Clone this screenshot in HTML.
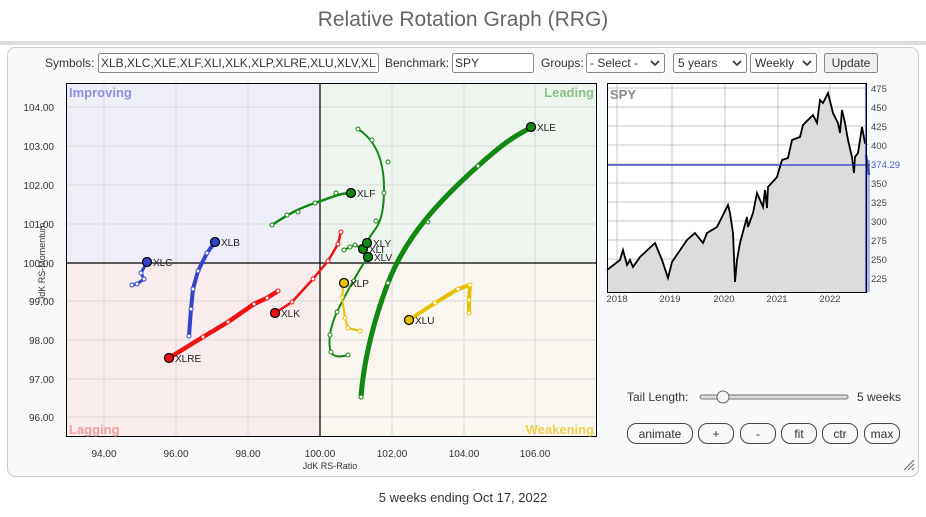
<!DOCTYPE html>
<html><head><meta charset="utf-8"><style>
body{margin:0;background:#fff;font-family:"Liberation Sans",Arial,sans-serif}
svg text{font-family:"Liberation Sans",Arial,sans-serif}
</style></head><body>
<svg width="926" height="512" viewBox="0 0 926 512" xmlns="http://www.w3.org/2000/svg">
<rect width="926" height="512" fill="#fff"/>
<text x="463" y="26" text-anchor="middle" font-size="21" fill="#666">Relative Rotation Graph (RRG)</text>
<rect x="0" y="41" width="926" height="4" fill="#d9dde0"/>
<rect x="7.5" y="47.5" width="911" height="429" rx="8" fill="#f8f9fa" stroke="#ccc"/>
<!-- header -->
<g font-size="12" fill="#333">
<text x="45" y="67">Symbols:</text>
<rect x="98.5" y="53.5" width="280" height="19" fill="#fff" stroke="#888" rx="2"/>
<text x="101" y="67">XLB,XLC,XLE,XLF,XLI,XLK,XLP,XLRE,XLU,XLV,XL</text>
<text x="385" y="67">Benchmark:</text>
<rect x="452.5" y="53.5" width="81" height="19" fill="#fff" stroke="#888" rx="2"/>
<text x="455" y="67">SPY</text>
<text x="541" y="67">Groups:</text>
<rect x="586.5" y="53.5" width="78" height="19" fill="#fff" stroke="#888" rx="2"/>
<text x="590" y="67">- Select -</text><path d="M651 61l4 4 4-4" stroke="#333" stroke-width="1.6" fill="none"/>
<rect x="673.5" y="53.5" width="73" height="19" fill="#fff" stroke="#888" rx="2"/>
<text x="678" y="67">5 years</text><path d="M733 61l4 4 4-4" stroke="#333" stroke-width="1.6" fill="none"/>
<rect x="750.5" y="53.5" width="66" height="19" fill="#fff" stroke="#888" rx="2"/>
<text x="755" y="67">Weekly</text><path d="M803 61l4 4 4-4" stroke="#333" stroke-width="1.6" fill="none"/>
<rect x="824.5" y="53.5" width="53" height="19" fill="#efefef" stroke="#888" rx="2"/>
<text x="851" y="67" text-anchor="middle">Update</text>
</g>
<!-- RRG quadrants -->
<rect x="66" y="83" width="254" height="180" fill="#eeeef8"/>
<rect x="320" y="83" width="277" height="180" fill="#eef4ee"/>
<rect x="66" y="263" width="254" height="174" fill="#f8ecec"/>
<rect x="320" y="263" width="277" height="174" fill="#f8f6ef"/>
<g stroke="#d8d8d8" stroke-width="1">
<path d="M104 83V437M176 83V437M248 83V437M392 83V437M464 83V437M535 83V437"/>
<path d="M66 107H597M66 146H597M66 185H597M66 224H597M66 301H597M66 340H597M66 379H597M66 417H597"/>
</g>
<path d="M320 83V437M66 263H597" stroke="#000" stroke-width="1.2"/>
<rect x="66.5" y="83.5" width="530" height="353" fill="none" stroke="#000"/>
<g font-size="13" font-weight="bold">
<text x="69" y="97" fill="#8f8fe0">Improving</text>
<text x="594" y="97" fill="#8cc08c" text-anchor="end">Leading</text>
<text x="69" y="434" fill="#f0a0a0">Lagging</text>
<text x="594" y="434" fill="#f0d050" text-anchor="end">Weakening</text>
</g>
<g font-size="10" fill="#333">
<text x="54" y="111" text-anchor="end">104.00</text><text x="54" y="150" text-anchor="end">103.00</text>
<text x="54" y="189" text-anchor="end">102.00</text><text x="54" y="228" text-anchor="end">101.00</text>
<text x="54" y="267" text-anchor="end">100.00</text><text x="54" y="305" text-anchor="end">99.00</text>
<text x="54" y="344" text-anchor="end">98.00</text><text x="54" y="383" text-anchor="end">97.00</text>
<text x="54" y="421" text-anchor="end">96.00</text>
<g text-anchor="middle">
<text x="104" y="457">94.00</text><text x="176" y="457">96.00</text><text x="248" y="457">98.00</text>
<text x="320" y="457">100.00</text><text x="392" y="457">102.00</text><text x="464" y="457">104.00</text><text x="535" y="457">106.00</text>
</g>
<text x="330" y="469" text-anchor="middle" font-size="9">JdK RS-Ratio</text>
<text transform="translate(45,262) rotate(-90)" text-anchor="middle" font-size="9">JdK RS-Momentum</text>
</g>
<!-- series -->
<g fill="none" stroke-linecap="round" stroke-linejoin="round">
<path d="M361 397C363 370 370 330 388 283S440 200 478 166S520 135 531 127" stroke="#118811" stroke-width="5"/>
<path d="M272 225C290 213 300 208 315 203S340 193 351 193" stroke="#118811" stroke-width="2.5"/>
<path d="M358 129C372 138 385 155 384 193S372 228 367 243" stroke="#118811" stroke-width="2"/>
<path d="M344 250L350 247 355 245 363 249" stroke="#118811" stroke-width="2"/>
<path d="M368 257C360 268 345 295 337 312S328 345 331 352S345 356 348 355" stroke="#118811" stroke-width="2"/>
<path d="M360 331L348 328 345 318 342 297 344 283" stroke="#e8c000" stroke-width="2"/>
<path d="M469 313L469 300 470 285 458 289 435 303 409 320" stroke="#e8c000" stroke-width="4"/>
<path d="M341 232L338 244 328 261 313 279 292 302 275 313" stroke="#ee1111" stroke-width="2.5"/>
<path d="M278 291L267 298 254 304 228 322 203 337 169 358" stroke="#ee1111" stroke-width="4.5"/>
<path d="M189 336L191 309 193 289 198 271 207 253 215 242" stroke="#3344cc" stroke-width="4"/>
<path d="M132 285L137 284 144 279 141 273 147 262" stroke="#3344cc" stroke-width="3"/>
</g>
<g fill="#fff" stroke-width="1">
<g stroke="#118811"><circle cx="361" cy="397" r="2"/><circle cx="388" cy="283" r="2"/><circle cx="428" cy="222" r="2"/><circle cx="478" cy="166" r="2"/>
<circle cx="272" cy="225" r="2"/><circle cx="287" cy="215" r="2"/><circle cx="298" cy="212" r="2"/><circle cx="315" cy="203" r="2"/><circle cx="336" cy="193" r="2"/>
<circle cx="358" cy="129" r="2"/><circle cx="372" cy="140" r="2"/><circle cx="388" cy="162" r="2"/><circle cx="384" cy="193" r="2"/><circle cx="376" cy="221" r="2"/>
<circle cx="344" cy="250" r="2"/><circle cx="350" cy="247" r="2"/><circle cx="355" cy="245" r="2"/>
<circle cx="354" cy="281" r="2"/><circle cx="337" cy="312" r="2"/><circle cx="330" cy="335" r="2"/><circle cx="331" cy="352" r="2"/><circle cx="348" cy="355" r="2"/></g>
<g stroke="#e8c000"><circle cx="360" cy="331" r="2"/><circle cx="348" cy="328" r="2"/><circle cx="345" cy="318" r="2"/><circle cx="342" cy="297" r="2"/>
<circle cx="469" cy="313" r="2"/><circle cx="469" cy="300" r="2"/><circle cx="470" cy="285" r="2"/><circle cx="458" cy="289" r="2"/><circle cx="435" cy="303" r="2"/></g>
<g stroke="#ee1111"><circle cx="341" cy="232" r="2"/><circle cx="338" cy="244" r="2"/><circle cx="328" cy="261" r="2"/><circle cx="313" cy="279" r="2"/><circle cx="292" cy="302" r="2"/>
<circle cx="278" cy="291" r="2"/><circle cx="267" cy="298" r="2"/><circle cx="254" cy="304" r="2"/><circle cx="228" cy="322" r="2"/><circle cx="203" cy="337" r="2"/></g>
<g stroke="#3344cc"><circle cx="189" cy="336" r="2"/><circle cx="191" cy="309" r="2"/><circle cx="193" cy="289" r="2"/><circle cx="198" cy="271" r="2"/><circle cx="207" cy="253" r="2"/>
<circle cx="132" cy="285" r="2"/><circle cx="137" cy="284" r="2"/><circle cx="144" cy="279" r="2"/><circle cx="141" cy="273" r="2"/></g>
</g>
<g stroke="#000" stroke-width="1.2">
<circle cx="531" cy="127" r="4.5" fill="#118811"/><circle cx="351" cy="193" r="4.5" fill="#118811"/>
<circle cx="363" cy="249" r="4.5" fill="#118811"/><circle cx="367" cy="243" r="4.5" fill="#118811"/><circle cx="368" cy="257" r="4.5" fill="#118811"/>
<circle cx="344" cy="283" r="4.5" fill="#e8c000"/><circle cx="409" cy="320" r="4.5" fill="#e8c000"/>
<circle cx="275" cy="313" r="4.5" fill="#ee1111"/><circle cx="169" cy="358" r="4.5" fill="#ee1111"/>
<circle cx="215" cy="242" r="4.5" fill="#3344cc"/><circle cx="147" cy="262" r="4.5" fill="#3344cc"/>
</g>
<g font-size="10" fill="#222">
<text x="537" y="131">XLE</text><text x="357" y="197">XLF</text><text x="373" y="247">XLY</text><text x="369" y="253">XLI</text><text x="374" y="261">XLV</text>
<text x="350" y="287">XLP</text><text x="415" y="324">XLU</text><text x="281" y="317">XLK</text><text x="175" y="362">XLRE</text>
<text x="221" y="246">XLB</text><text x="153" y="266">XLC</text>
</g>
<!-- SPY chart -->
<rect x="607" y="83" width="259" height="209" fill="#fff"/>
<g stroke="#c8c8c8"><path d="M617 83V292M672 83V292M725 83V292M778 83V292M830 83V292"/>
<path d="M607 88H866M607 107H866M607 126H866M607 145H866M607 164H866M607 183H866M607 202H866M607 221H866M607 240H866M607 259H866M607 278H866"/></g>
<polygon fill="#dcdcdc" points="607,292 607,270 620,260 623,250 627,265 630,260 633,267 640,257 655,243 662,260 668,278 672,262 687,240 695,233 703,243 707,233 717,227 728,205 730,213 733,233 735,282 737,260 740,243 747,217 748,227 753,213 757,193 763,207 765,190 767,208 768,187 777,177 782,160 788,158 792,140 800,137 803,125 813,115 817,123 820,100 823,103 828,93 833,113 838,123 840,133 842,110 845,123 848,140 852,157 854,173 855,157 858,153 862,127 865,143 867,145 867,292"/>
<polyline fill="none" stroke="#000" stroke-width="1.8" points="607,270 620,260 623,250 627,265 630,260 633,267 640,257 655,243 662,260 668,278 672,262 687,240 695,233 703,243 707,233 717,227 728,205 730,213 733,233 735,282 737,260 740,243 747,217 748,227 753,213 757,193 763,207 765,190 767,208 768,187 777,177 782,160 788,158 792,140 800,137 803,125 813,115 817,123 820,100 823,103 828,93 833,113 838,123 840,133 842,110 845,123 848,140 852,157 854,173 855,157 858,153 862,127 865,143 867,145"/>
<rect x="866" y="160" width="4" height="132" fill="#aab4ee"/>
<path d="M866 83V292" stroke="#3344cc" stroke-width="1.5"/>
<path d="M607 165H870" stroke="#2233bb" stroke-width="1.2"/>
<path d="M866 155L869 175" stroke="#3344cc" stroke-width="2.5"/>
<rect x="607.5" y="83.5" width="259" height="209" fill="none" stroke="#000"/>
<text x="610" y="99" font-size="13" font-weight="bold" fill="#888">SPY</text>
<g font-size="9.5" fill="#444">
<text x="871" y="92">475</text><text x="871" y="111">450</text><text x="871" y="130">425</text><text x="871" y="149">400</text>
<text x="871" y="168" fill="#4455cc">374.29</text><text x="871" y="187">350</text><text x="871" y="206">325</text><text x="871" y="225">300</text>
<text x="871" y="244">275</text><text x="871" y="263">250</text><text x="871" y="282">225</text>
<g text-anchor="middle"><text x="617" y="302">2018</text><text x="670" y="302">2019</text><text x="724" y="302">2020</text><text x="777" y="302">2021</text><text x="830" y="302">2022</text></g>
</g>
<!-- controls -->
<text x="627" y="401" font-size="12" fill="#333">Tail Length:</text>
<rect x="700" y="395" width="148" height="4" rx="2" fill="#ddd" stroke="#777"/>
<circle cx="723" cy="397" r="6" fill="#f4f4f4" stroke="#666"/>
<text x="857" y="401" font-size="12" fill="#333">5 weeks</text>
<g fill="#f8f9fa" stroke="#444">
<rect x="627.5" y="423.5" width="65" height="20" rx="9"/><rect x="698.5" y="423.5" width="35" height="20" rx="9"/>
<rect x="740.5" y="423.5" width="35" height="20" rx="9"/><rect x="781.5" y="423.5" width="35" height="20" rx="9"/>
<rect x="822.5" y="423.5" width="35" height="20" rx="9"/><rect x="864.5" y="423.5" width="35" height="20" rx="9"/>
</g>
<g font-size="12" fill="#333" text-anchor="middle">
<text x="660" y="438">animate</text><text x="716" y="438">+</text><text x="758" y="438">-</text>
<text x="799" y="438">fit</text><text x="840" y="438">ctr</text><text x="882" y="438">max</text>
</g>
<path d="M904 470L914 460M908 470L914 464M912 470L914 468" stroke="#777" stroke-width="1.2"/>
<text x="463" y="502" font-size="13" fill="#333" text-anchor="middle">5 weeks ending Oct 17, 2022</text>
</svg>
</body></html>
